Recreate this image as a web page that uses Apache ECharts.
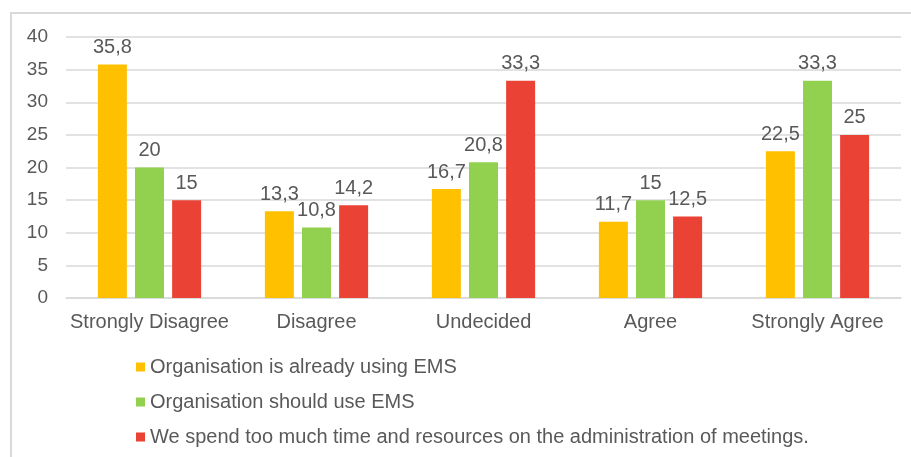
<!DOCTYPE html>
<html>
<head>
<meta charset="utf-8">
<script src="https://cdn.jsdelivr.net/npm/echarts@6/dist/echarts.min.js"></script>
<style>
  html, body { margin: 0; padding: 0; background: #fff; }
  #chart { width: 911px; height: 457px; }
</style>
</head>
<body>
<div id="chart"></div>
<script>
const categories = ['Strongly Disagree', 'Disagree', 'Undecided', 'Agree', 'Strongly Agree']
const seriesNames = [
  'Organisation is already using EMS',
  'Organisation should use EMS',
  'We spend too much time and resources on the administration of meetings.'
]
const alreadyUsing = [35.8, 13.3, 16.7, 11.7, 22.5]
const shouldUse = [20, 10.8, 20.8, 15, 33.3]
const tooMuchTime = [15, 14.2, 33.3, 12.5, 25]
const yTicks = [0, 5, 10, 15, 20, 25, 30, 35, 40]
const colors = ['#FFC000', '#92D050', '#EA4335']

const textColor = '#595959'
const font = 'Liberation Sans, Arial, sans-serif'

const chart = echarts.init(document.getElementById('chart'))

function makeSeries(name, data, color) {
  return {
    name: name,
    type: 'bar',
    data: data,
    barWidth: 29,
    barGap: '28%',
    itemStyle: { color: color },
    label: {
      show: true,
      position: 'top',
      distance: 7,
      color: textColor,
      fontFamily: font,
      fontSize: 20,
      formatter: p => String(p.value).replace('.', ',')
    }
  }
}

chart.setOption({
  animation: false,
  graphic: [{
    type: 'rect',
    shape: { x: 11, y: 13, width: 920, height: 460 },
    style: { fill: 'none', stroke: '#D9D9D9', lineWidth: 2 },
    silent: true
  }],
  grid: {
    left: 66,
    right: 10,
    top: 37,
    bottom: 159
  },
  xAxis: {
    type: 'category',
    data: categories,
    axisTick: { show: false },
    axisLine: { lineStyle: { color: '#D9D9D9', width: 1.5 } },
    axisLabel: {
      interval: 0,
      color: textColor,
      fontFamily: font,
      fontSize: 20,
      margin: 14
    }
  },
  yAxis: {
    type: 'value',
    min: yTicks[0],
    max: yTicks[yTicks.length - 1],
    interval: 5,
    axisLine: { show: false },
    axisTick: { show: false },
    splitLine: { lineStyle: { color: '#D9D9D9', width: 1.5 } },
    axisLabel: {
      color: textColor,
      fontFamily: font,
      fontSize: 19,
      margin: 18
    }
  },
  legend: {
    orient: 'vertical',
    left: 131,
    top: 352,
    itemWidth: 9,
    itemHeight: 9,
    itemGap: 15,
    icon: 'rect',
    textStyle: {
      color: textColor,
      fontFamily: font,
      fontSize: 20
    },
    data: seriesNames
  },
  series: [
    makeSeries(seriesNames[0], alreadyUsing, colors[0]),
    makeSeries(seriesNames[1], shouldUse, colors[1]),
    makeSeries(seriesNames[2], tooMuchTime, colors[2])
  ]
})
</script>
</body>
</html>
